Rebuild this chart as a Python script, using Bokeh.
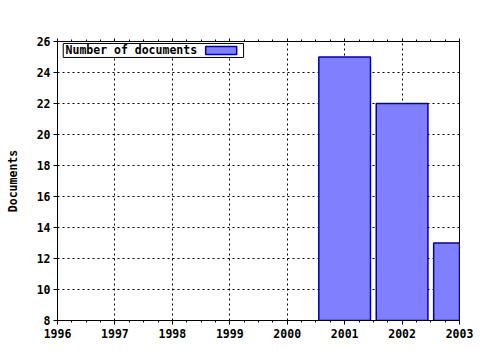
from bokeh.plotting import figure
from bokeh.models import LinearAxis, FixedTicker, Range1d, Label, BoxAnnotation
from bokeh.embed import file_html
from bokeh.resources import INLINE

years = [2001, 2002, 2003]
documents = [25, 22, 13]
x_ticks = [1996, 1997, 1998, 1999, 2000, 2001, 2002, 2003]
x_minor = [1996 + i * 0.25 for i in range(29)]
y_ticks = [8, 10, 12, 14, 16, 18, 20, 22, 24, 26]
series_name = "Number of documents"

FONT = "DejaVu Sans Mono"
FS = "11.5px"
BAR_FILL = "#8080ff"
BAR_LINE = "#0000a8"

p = figure(width=480, height=350, output_backend="svg", toolbar_location=None,
           x_range=Range1d(1996, 2003), y_range=Range1d(8, 26),
           min_border_left=57, min_border_right=21, min_border_top=41, min_border_bottom=30)
p.outline_line_color = "black"
p.outline_line_width = 1
p.background_fill_color = "white"
p.border_fill_color = "white"

p.vbar(x=years, top=documents, bottom=0, width=0.9,
       fill_color=BAR_FILL, line_color=BAR_LINE, line_width=1.5)

for ax in (p.xaxis[0], p.yaxis[0]):
    ax.major_label_text_font = FONT
    ax.major_label_text_font_style = "bold"
    ax.major_label_text_font_size = FS
    ax.major_label_text_color = "black"
    ax.axis_line_color = "black"
    ax.major_tick_line_color = "black"
    ax.minor_tick_line_color = "black"
    ax.major_tick_in = 0
    ax.major_tick_out = 4
    ax.minor_tick_in = 0
    ax.minor_tick_out = 2

p.xaxis[0].ticker = FixedTicker(ticks=x_ticks, minor_ticks=x_minor)
p.yaxis[0].ticker = FixedTicker(ticks=y_ticks, minor_ticks=[])
p.xaxis[0].major_label_standoff = 4
p.yaxis[0].major_label_standoff = 3

p.yaxis[0].axis_label = "Documents"
p.yaxis[0].axis_label_text_font = FONT
p.yaxis[0].axis_label_text_font_style = "bold"
p.yaxis[0].axis_label_text_font_size = FS
p.yaxis[0].axis_label_text_color = "black"
p.yaxis[0].axis_label_standoff = 14

top = LinearAxis(ticker=FixedTicker(ticks=x_ticks, minor_ticks=x_minor),
                 major_label_overrides={t: "" for t in x_ticks},
                 major_label_standoff=0,
                 major_tick_in=0, major_tick_out=3,
                 minor_tick_in=0, minor_tick_out=2, axis_line_color="black")
p.add_layout(top, "above")

p.xgrid.ticker = FixedTicker(ticks=x_ticks)
p.ygrid.ticker = FixedTicker(ticks=y_ticks)
for g in (p.xgrid[0], p.ygrid[0]):
    g.grid_line_color = "black"
    g.grid_line_dash = "2 3"
    g.grid_line_width = 1

# legend box (label first, swatch after, as in the reference)
p.add_layout(BoxAnnotation(left=1996.10, right=1999.24, top=25.87, bottom=24.97,
                           fill_color="white", fill_alpha=1, line_color="black",
                           line_width=1, line_alpha=1))
p.add_layout(BoxAnnotation(left=1998.58, right=1999.12, top=25.68, bottom=25.16,
                           fill_color=BAR_FILL, fill_alpha=1, line_color=BAR_LINE,
                           line_width=1.5, line_alpha=1))
p.add_layout(Label(x=1996.14, y=25.42, text=series_name, text_font=FONT,
                   text_font_style="bold", text_font_size=FS, text_color="black",
                   text_baseline="middle", text_align="left"))

open("out.html", "w").write(file_html(p, INLINE))
